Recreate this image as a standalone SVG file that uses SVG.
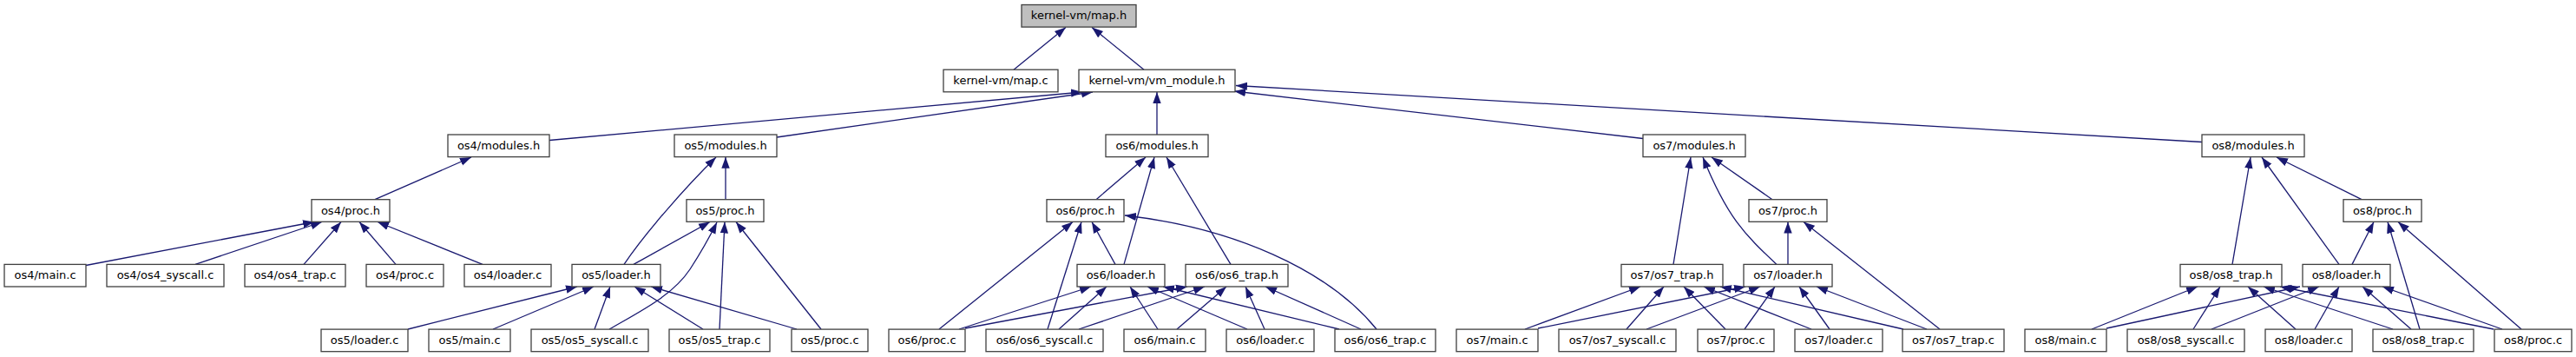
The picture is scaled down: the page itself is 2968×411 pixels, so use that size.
<svg xmlns="http://www.w3.org/2000/svg" width="2968" height="411" viewBox="0 0 2968 411">
<style>
.n rect{fill:#ffffff;stroke:#404040;stroke-width:1.3}
.root rect{fill:#bfbfbf;stroke:#404040;stroke-width:1.3}
text{font-family:"DejaVu Sans","Liberation Sans",sans-serif;font-size:13px;text-anchor:middle;fill:#000000}
.e{fill:none;stroke:#191970;stroke-width:1.3;marker-end:url(#ah)}
</style>
<defs>
<marker id="ah" markerUnits="userSpaceOnUse" markerWidth="14" markerHeight="10" refX="13" refY="5" orient="auto" viewBox="0 0 14 10">
<path d="M0,0.3 L13,5 L0,9.7 Z" fill="#191970"/>
</marker>
</defs>
<rect x="0" y="0" width="2968" height="411" fill="#ffffff"/>
<g id="connectors">
<path class="e" d="M1168,80.2 L1228,31.5"/>
<path class="e" d="M1318,80.2 L1258,31.5"/>
<path class="e" d="M633,161.5 L1247,106"/>
<path class="e" d="M895,158 L1259,106"/>
<path class="e" d="M1333,155 L1333,106"/>
<path class="e" d="M1893,159.5 L1422,105"/>
<path class="e" d="M2537,163.5 L1424,98.5"/>
<path class="e" d="M432,229.7 L543,181"/>
<path class="e" d="M99,305.5 L362,255.5"/>
<path class="e" d="M225,304.4 L371,255.5"/>
<path class="e" d="M350,304.4 L393,255.5"/>
<path class="e" d="M456,304.4 L414,255.5"/>
<path class="e" d="M556,304.4 L435,255.5"/>
<path class="e" d="M836,229.7 L836,180.8"/>
<path class="e" d="M719,304.4 C742,270 790,215 825,181"/>
<path class="e" d="M730,304.4 L818,255.5"/>
<path class="e" d="M702,379 C740,357 775,340 795,310 C808,290 818,272 826,256"/>
<path class="e" d="M829,379 L835,255.5"/>
<path class="e" d="M946,379 L848,255.5"/>
<path class="e" d="M470,379 L665,330"/>
<path class="e" d="M568,379 L684,330"/>
<path class="e" d="M685,379 L703,330"/>
<path class="e" d="M810,379 L731,330"/>
<path class="e" d="M918,379 L750,330"/>
<path class="e" d="M1263,229.7 L1320,181"/>
<path class="e" d="M1295,304.4 L1330,181"/>
<path class="e" d="M1418,304.4 L1344,181"/>
<path class="e" d="M1285,304.4 L1258,255.5"/>
<path class="e" d="M1082,379 L1236,255.5"/>
<path class="e" d="M1207,379 L1246,255.5"/>
<path class="e" d="M1586,379 C1530,310 1420,262 1296,248"/>
<path class="e" d="M1105,379 L1257,330"/>
<path class="e" d="M1220,379 L1275,330"/>
<path class="e" d="M1334,379 L1302,330"/>
<path class="e" d="M1437,379 L1322,330"/>
<path class="e" d="M1543,379 L1340,330"/>
<path class="e" d="M1112,378 L1368,330"/>
<path class="e" d="M1243,379 L1388,330"/>
<path class="e" d="M1356,379 L1413,330"/>
<path class="e" d="M1457,379 L1435,330"/>
<path class="e" d="M1568,379 L1458,330"/>
<path class="e" d="M1928,304.4 L1948,181"/>
<path class="e" d="M2047,304.4 C2010,270 1990,250 1962,181"/>
<path class="e" d="M2042,229.7 L1972,181"/>
<path class="e" d="M2060,304.4 L2060,255.5"/>
<path class="e" d="M2235,379 L2078,255.5"/>
<path class="e" d="M1757,379 L1890,330"/>
<path class="e" d="M1874,379 L1917,330"/>
<path class="e" d="M1988,379 L1940,330"/>
<path class="e" d="M2087,379 L1963,330"/>
<path class="e" d="M2193,379 L1982,330"/>
<path class="e" d="M1772,378 L2011,330"/>
<path class="e" d="M1897,379 L2028,330"/>
<path class="e" d="M2010,379 L2045,330"/>
<path class="e" d="M2108,379 L2073,330"/>
<path class="e" d="M2220,379 L2093,330"/>
<path class="e" d="M2572,304.4 L2593,181"/>
<path class="e" d="M2695,304.4 L2606,181"/>
<path class="e" d="M2721,229.7 L2623,181"/>
<path class="e" d="M2710,304.4 L2735,255.5"/>
<path class="e" d="M2788,379 L2751,255.5"/>
<path class="e" d="M2905,379 L2763,255.5"/>
<path class="e" d="M2410,379 L2532,330"/>
<path class="e" d="M2527,379 L2558,330"/>
<path class="e" d="M2645,379 L2590,330"/>
<path class="e" d="M2757,379 L2608,330"/>
<path class="e" d="M2873,379 L2627,330"/>
<path class="e" d="M2427,378 L2650,330"/>
<path class="e" d="M2548,379 L2672,330"/>
<path class="e" d="M2667,379 L2695,330"/>
<path class="e" d="M2778,379 L2722,330"/>
<path class="e" d="M2883,379 L2745,330"/>
</g>
<g id="n0" class="root"><rect x="1177" y="5.5" width="132" height="25.6"/><text x="1243" y="22.3">kernel-vm/map.h</text></g>
<g id="n1" class="n"><rect x="1087" y="80.2" width="132" height="25.6"/><text x="1153" y="97">kernel-vm/map.c</text></g>
<g id="n2" class="n"><rect x="1243" y="80.2" width="180" height="25.6"/><text x="1333" y="97">kernel-vm/vm_module.h</text></g>
<g id="n3" class="n"><rect x="516" y="155" width="117" height="25.6"/><text x="574.5" y="171.8">os4/modules.h</text></g>
<g id="n4" class="n"><rect x="777" y="155" width="118" height="25.6"/><text x="836" y="171.8">os5/modules.h</text></g>
<g id="n5" class="n"><rect x="1274" y="155" width="118" height="25.6"/><text x="1333" y="171.8">os6/modules.h</text></g>
<g id="n6" class="n"><rect x="1893" y="155" width="118" height="25.6"/><text x="1952" y="171.8">os7/modules.h</text></g>
<g id="n7" class="n"><rect x="2537" y="155" width="118" height="25.6"/><text x="2596" y="171.8">os8/modules.h</text></g>
<g id="n8" class="n"><rect x="359" y="229.7" width="90" height="25.6"/><text x="404" y="246.5">os4/proc.h</text></g>
<g id="n9" class="n"><rect x="791" y="229.7" width="89" height="25.6"/><text x="835.5" y="246.5">os5/proc.h</text></g>
<g id="n10" class="n"><rect x="1206" y="229.7" width="89" height="25.6"/><text x="1250.5" y="246.5">os6/proc.h</text></g>
<g id="n11" class="n"><rect x="2015" y="229.7" width="90" height="25.6"/><text x="2060" y="246.5">os7/proc.h</text></g>
<g id="n12" class="n"><rect x="2700" y="229.7" width="90" height="25.6"/><text x="2745" y="246.5">os8/proc.h</text></g>
<g id="n13" class="n"><rect x="5" y="304.4" width="94" height="25.6"/><text x="52" y="321.2">os4/main.c</text></g>
<g id="n14" class="n"><rect x="123" y="304.4" width="135" height="25.6"/><text x="190.5" y="321.2">os4/os4_syscall.c</text></g>
<g id="n15" class="n"><rect x="282" y="304.4" width="116" height="25.6"/><text x="340" y="321.2">os4/os4_trap.c</text></g>
<g id="n16" class="n"><rect x="422" y="304.4" width="89" height="25.6"/><text x="466.5" y="321.2">os4/proc.c</text></g>
<g id="n17" class="n"><rect x="535" y="304.4" width="100" height="25.6"/><text x="585" y="321.2">os4/loader.c</text></g>
<g id="n18" class="n"><rect x="659" y="304.4" width="102" height="25.6"/><text x="710" y="321.2">os5/loader.h</text></g>
<g id="n19" class="n"><rect x="1241" y="304.4" width="101" height="25.6"/><text x="1291.5" y="321.2">os6/loader.h</text></g>
<g id="n20" class="n"><rect x="1366" y="304.4" width="118" height="25.6"/><text x="1425" y="321.2">os6/os6_trap.h</text></g>
<g id="n21" class="n"><rect x="1868" y="304.4" width="117" height="25.6"/><text x="1926.5" y="321.2">os7/os7_trap.h</text></g>
<g id="n22" class="n"><rect x="2009" y="304.4" width="102" height="25.6"/><text x="2060" y="321.2">os7/loader.h</text></g>
<g id="n23" class="n"><rect x="2512" y="304.4" width="117" height="25.6"/><text x="2570.5" y="321.2">os8/os8_trap.h</text></g>
<g id="n24" class="n"><rect x="2653" y="304.4" width="101" height="25.6"/><text x="2703.5" y="321.2">os8/loader.h</text></g>
<g id="n25" class="n"><rect x="370" y="379.1" width="100" height="25.6"/><text x="420" y="395.9">os5/loader.c</text></g>
<g id="n26" class="n"><rect x="494" y="379.1" width="94" height="25.6"/><text x="541" y="395.9">os5/main.c</text></g>
<g id="n27" class="n"><rect x="612" y="379.1" width="135" height="25.6"/><text x="679.5" y="395.9">os5/os5_syscall.c</text></g>
<g id="n28" class="n"><rect x="771" y="379.1" width="116" height="25.6"/><text x="829" y="395.9">os5/os5_trap.c</text></g>
<g id="n29" class="n"><rect x="912" y="379.1" width="88" height="25.6"/><text x="956" y="395.9">os5/proc.c</text></g>
<g id="n30" class="n"><rect x="1024" y="379.1" width="88" height="25.6"/><text x="1068" y="395.9">os6/proc.c</text></g>
<g id="n31" class="n"><rect x="1136" y="379.1" width="135" height="25.6"/><text x="1203.5" y="395.9">os6/os6_syscall.c</text></g>
<g id="n32" class="n"><rect x="1295" y="379.1" width="94" height="25.6"/><text x="1342" y="395.9">os6/main.c</text></g>
<g id="n33" class="n"><rect x="1413" y="379.1" width="101" height="25.6"/><text x="1463.5" y="395.9">os6/loader.c</text></g>
<g id="n34" class="n"><rect x="1538" y="379.1" width="116" height="25.6"/><text x="1596" y="395.9">os6/os6_trap.c</text></g>
<g id="n35" class="n"><rect x="1678" y="379.1" width="94" height="25.6"/><text x="1725" y="395.9">os7/main.c</text></g>
<g id="n36" class="n"><rect x="1796" y="379.1" width="135" height="25.6"/><text x="1863.5" y="395.9">os7/os7_syscall.c</text></g>
<g id="n37" class="n"><rect x="1956" y="379.1" width="88" height="25.6"/><text x="2000" y="395.9">os7/proc.c</text></g>
<g id="n38" class="n"><rect x="2068" y="379.1" width="101" height="25.6"/><text x="2118.5" y="395.9">os7/loader.c</text></g>
<g id="n39" class="n"><rect x="2192" y="379.1" width="117" height="25.6"/><text x="2250.5" y="395.9">os7/os7_trap.c</text></g>
<g id="n40" class="n"><rect x="2333" y="379.1" width="94" height="25.6"/><text x="2380" y="395.9">os8/main.c</text></g>
<g id="n41" class="n"><rect x="2451" y="379.1" width="135" height="25.6"/><text x="2518.5" y="395.9">os8/os8_syscall.c</text></g>
<g id="n42" class="n"><rect x="2610" y="379.1" width="100" height="25.6"/><text x="2660" y="395.9">os8/loader.c</text></g>
<g id="n43" class="n"><rect x="2734" y="379.1" width="116" height="25.6"/><text x="2792" y="395.9">os8/os8_trap.c</text></g>
<g id="n44" class="n"><rect x="2874" y="379.1" width="89" height="25.6"/><text x="2918.5" y="395.9">os8/proc.c</text></g>
</svg>
